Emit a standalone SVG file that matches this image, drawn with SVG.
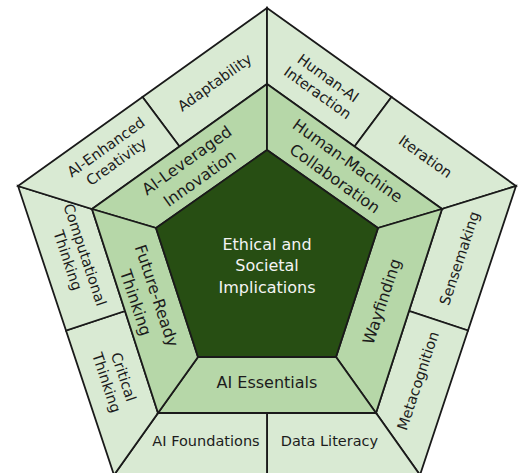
<svg xmlns="http://www.w3.org/2000/svg" width="521" height="473" viewBox="0 0 521 473">
<style>
  .outer { fill: #d9ead3; stroke: #1a1a1a; stroke-width: 1.8; stroke-linejoin: miter; }
  .mid { fill: #b6d7a8; stroke: #1a1a1a; stroke-width: 1.8; stroke-linejoin: miter; }
  .core { fill: #274e13; stroke: #1a1a1a; stroke-width: 1.8; stroke-linejoin: miter; }
  text { font-family: "DejaVu Sans", "Noto Sans", sans-serif; text-anchor: middle; }
  .to { font-size: 14.5px; fill: #1c1c1c; }
  .tm { font-size: 16px; fill: #1c1c1c; }
  .tc { font-size: 16px; fill: #f4f4f4; }
</style>
<rect width="521" height="473" fill="#ffffff"/>

<!-- outer ring -->
<g id="adaptability">
  <polygon class="outer" points="142.5,97 267,8 267,84 179.5,146.5"/>
  <text class="to" transform="translate(215,83) rotate(-35.6)" y="4.5">Adaptability</text>
</g>
<g id="human-ai-interaction">
  <polygon class="outer" points="267,8 391.5,97 354.5,146.5 267,84"/>
  <text class="to" transform="translate(322.5,86) rotate(35.6)"><tspan x="0" y="-4.6">Human-AI</tspan><tspan x="0" y="13.4">Interaction</tspan></text>
</g>
<g id="iteration">
  <polygon class="outer" points="391.5,97 516,186 442,209 354.5,146.5"/>
  <text class="to" transform="translate(425,157) rotate(35.6)" y="4.5">Iteration</text>
</g>
<g id="sensemaking">
  <polygon class="outer" points="516,186 468,330.5 409,311 442,209"/>
  <text class="to" transform="translate(460,258.5) rotate(-71.6)" y="4.5">Sensemaking</text>
</g>
<g id="metacognition">
  <polygon class="outer" points="468,330.5 420,475 376,413 409,311"/>
  <text class="to" transform="translate(418.5,381) rotate(-71.6)" y="4.5">Metacognition</text>
</g>
<g id="data-literacy">
  <polygon class="outer" points="420,475 267,475 267,413 376,413"/>
  <text class="to" x="329.5" y="446">Data Literacy</text>
</g>
<g id="ai-foundations">
  <polygon class="outer" points="267,475 114,475 158,413 267,413"/>
  <text class="to" x="206" y="446">AI Foundations</text>
</g>
<g id="critical-thinking">
  <polygon class="outer" points="114,475 66,330.5 125,311 158,413"/>
  <text class="to" transform="translate(114.5,380) rotate(71.6)"><tspan x="0" y="-4.6">Critical</tspan><tspan x="0" y="13.4">Thinking</tspan></text>
</g>
<g id="computational-thinking">
  <polygon class="outer" points="66,330.5 18,186 92,209 125,311"/>
  <text class="to" transform="translate(75.7,257.8) rotate(71.6)"><tspan x="0" y="-4.6">Computational</tspan><tspan x="0" y="13.4">Thinking</tspan></text>
</g>
<g id="ai-enhanced-creativity">
  <polygon class="outer" points="18,186 142.5,97 179.5,146.5 92,209"/>
  <text class="to" transform="translate(111.5,155) rotate(-35.6)"><tspan x="0" y="-4.6">AI-Enhanced</tspan><tspan x="0" y="13.4">Creativity</tspan></text>
</g>

<!-- middle ring -->
<g id="ai-leveraged-innovation">
  <polygon class="mid" points="92,209 267,84 267,150 156,228"/>
  <text class="tm" transform="translate(193.7,170) rotate(-35.6)"><tspan x="0" y="-6.2">AI-Leveraged</tspan><tspan x="0" y="15.8">Innovation</tspan></text>
</g>
<g id="human-machine-collaboration">
  <polygon class="mid" points="267,84 442,209 378,228 267,150"/>
  <text class="tm" transform="translate(340.8,170.3) rotate(35.6)"><tspan x="0" y="-6.2">Human-Machine</tspan><tspan x="0" y="15.8">Collaboration</tspan></text>
</g>
<g id="wayfinding">
  <polygon class="mid" points="442,209 376,413 336,357 378,228"/>
  <text class="tm" transform="translate(382.3,301.7) rotate(-71.6)" y="5">Wayfinding</text>
</g>
<g id="ai-essentials">
  <polygon class="mid" points="376,413 158,413 198,357 336,357"/>
  <text class="tm" x="267" y="388.3">AI Essentials</text>
</g>
<g id="future-ready-thinking">
  <polygon class="mid" points="158,413 92,209 156,228 198,357"/>
  <text class="tm" transform="translate(145.5,299.5) rotate(71.6)"><tspan x="0" y="-6.2">Future-Ready</tspan><tspan x="0" y="15.8">Thinking</tspan></text>
</g>

<!-- core -->
<g id="ethical-and-societal-implications">
  <polygon class="core" points="267,150 378,228 336,357 198,357 156,228"/>
  <text class="tc"><tspan x="267" y="249.5">Ethical and</tspan><tspan x="267" y="271.3">Societal</tspan><tspan x="267" y="293">Implications</tspan></text>
</g>

<g id="connectors"></g>
</svg>
